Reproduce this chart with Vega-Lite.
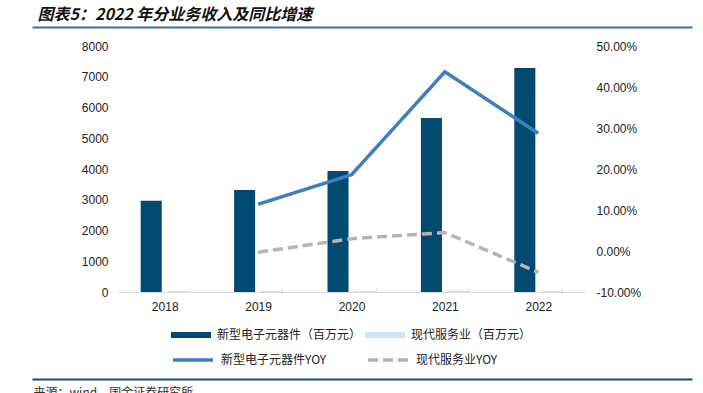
{
  "$schema": "https://vega.github.io/schema/vega-lite/v6.json",
  "width": 467,
  "height": 246,
  "autosize": {"type": "none"},
  "padding": {"left": 118, "top": 46, "right": 118, "bottom": 101},
  "background": "white",
  "config": {"view": {"stroke": null}, "axis": {"grid": false}},
  "datasets": {
    "rev": [
      {"year": "2018", "series": "新型电子元器件（百万元）", "value": 2970},
      {"year": "2018", "series": "现代服务业（百万元）", "value": 40},
      {"year": "2019", "series": "新型电子元器件（百万元）", "value": 3317},
      {"year": "2019", "series": "现代服务业（百万元）", "value": 39.9},
      {"year": "2020", "series": "新型电子元器件（百万元）", "value": 3935},
      {"year": "2020", "series": "现代服务业（百万元）", "value": 41.1},
      {"year": "2021", "series": "新型电子元器件（百万元）", "value": 5659},
      {"year": "2021", "series": "现代服务业（百万元）", "value": 43},
      {"year": "2022", "series": "新型电子元器件（百万元）", "value": 7285},
      {"year": "2022", "series": "现代服务业（百万元）", "value": 40.8}
    ],
    "yoy": [
      {"year": "2019", "series": "新型电子元器件YOY", "yoy": 0.114},
      {"year": "2020", "series": "新型电子元器件YOY", "yoy": 0.186},
      {"year": "2021", "series": "新型电子元器件YOY", "yoy": 0.437},
      {"year": "2022", "series": "新型电子元器件YOY", "yoy": 0.287},
      {"year": "2019", "series": "现代服务业YOY", "yoy": -0.003},
      {"year": "2020", "series": "现代服务业YOY", "yoy": 0.03},
      {"year": "2021", "series": "现代服务业YOY", "yoy": 0.045},
      {"year": "2022", "series": "现代服务业YOY", "yoy": -0.052}
    ]
  },
  "layer": [
    {
      "layer": [
        {
          "data": {"name": "rev"},
          "mark": {"type": "bar"},
          "encoding": {
            "x": {
              "field": "year", "type": "nominal",
              "scale": {"type": "band", "domain": ["2018", "2019", "2020", "2021", "2022"], "paddingInner": 0.486, "paddingOuter": 0.243},
              "axis": {
                "orient": "bottom", "title": null, "domainColor": "#d9d9d9", "domainWidth": 1,
                "ticks": true, "tickColor": "#d9d9d9", "tickSize": -4, "tickBand": "extent",
                "labelPadding": 13, "labelAngle": 0, "labelFont": "Liberation Sans", "labelFontSize": 12, "labelColor": "#222"
              }
            },
            "xOffset": {
              "field": "series", "type": "nominal",
              "scale": {"domain": ["新型电子元器件（百万元）", "现代服务业（百万元）"], "paddingInner": 0.22, "paddingOuter": 0}
            },
            "y": {
              "field": "value", "type": "quantitative",
              "scale": {"domain": [0, 8000], "nice": false},
              "axis": {
                "orient": "left", "title": null, "domain": false, "ticks": false,
                "values": [0, 1000, 2000, 3000, 4000, 5000, 6000, 7000, 8000], "format": "d",
                "labelPadding": 10, "labelFont": "Liberation Sans", "labelFontSize": 12, "labelColor": "#222"
              }
            },
            "fill": {
              "field": "series", "type": "nominal",
              "scale": {"domain": ["新型电子元器件（百万元）", "现代服务业（百万元）"], "range": ["#024a70", "#d2e4f4"]},
              "legend": {
                "title": null, "orient": "none", "legendX": 53, "legendY": 269, "direction": "horizontal", "columns": 2,
                "padding": 0, "symbolType": "M-1,-0.15H1V0.15H-1Z", "symbolSize": 1600, "symbolStrokeWidth": 0,
                "labelOffset": 6, "columnPadding": 3, "labelFont": "Noto Sans CJK SC", "labelFontSize": 12, "labelColor": "#222", "labelLimit": 300
              }
            }
          }
        },
        {
          "data": {"name": "yoy"},
          "mark": {"type": "line", "strokeWidth": 3.5},
          "encoding": {
            "x": {"field": "year", "type": "nominal"},
            "y": {
              "field": "yoy", "type": "quantitative",
              "scale": {"domain": [-0.1, 0.5], "nice": false},
              "axis": {
                "orient": "right", "title": null, "domain": false, "ticks": false,
                "values": [-0.1, 0, 0.1, 0.2, 0.3, 0.4, 0.5],
                "labelExpr": "replace(format(datum.value, '.2%'), '−', '-')",
                "labelPadding": 11, "labelFont": "Liberation Sans", "labelFontSize": 12, "labelColor": "#222"
              }
            },
            "stroke": {
              "field": "series", "type": "nominal",
              "scale": {"domain": ["新型电子元器件YOY", "现代服务业YOY"], "range": ["#3f7fc1", "#b5b5b5"]},
              "legend": {
                "title": null, "orient": "none", "legendX": 53, "legendY": 292, "direction": "horizontal", "columns": 2,
                "padding": 0, "symbolType": "stroke", "symbolSize": 1600, "symbolStrokeWidth": 3.5,
                "labelOffset": 6, "columnPadding": 34, "labelFont": "Noto Sans CJK SC", "labelFontSize": 12, "labelColor": "#222", "labelLimit": 300
              }
            },
            "strokeDash": {
              "field": "series", "type": "nominal",
              "scale": {"domain": ["新型电子元器件YOY", "现代服务业YOY"], "range": [[1, 0], [10, 5]]},
              "legend": {
                "title": null, "orient": "none", "legendX": 53, "legendY": 292, "direction": "horizontal", "columns": 2,
                "padding": 0, "symbolType": "stroke", "symbolSize": 1600, "symbolStrokeWidth": 3.5,
                "labelOffset": 6, "columnPadding": 34, "labelFont": "Noto Sans CJK SC", "labelFontSize": 12, "labelColor": "#222", "labelLimit": 300
              }
            }
          }
        }
      ],
      "resolve": {"scale": {"y": "independent"}}
    },
    {
      "data": {"name": "rev"},
      "mark": {"type": "point", "opacity": 0},
      "encoding": {
        "x": {
          "field": "year", "type": "nominal",
          "scale": {"type": "point", "range": [-86, 574]},
          "axis": {
            "orient": "top", "offset": 19, "domain": true, "domainColor": "#3d7496", "domainWidth": 2,
            "ticks": false, "labels": false, "grid": false,
            "title": "图表5：2022 年分业务收入及同比增速",
            "titleX": -81, "titleY": -8, "titleAlign": "left", "titleBaseline": "alphabetic", "titleAngle": 0,
            "titleFont": "Noto Sans CJK SC", "titleFontSize": 16, "titleFontStyle": "italic", "titleFontWeight": "bold", "titleColor": "#111"
          }
        }
      }
    },
    {
      "data": {"name": "rev"},
      "mark": {"type": "point", "opacity": 0},
      "encoding": {
        "x": {
          "field": "year", "type": "nominal",
          "scale": {"type": "point", "range": [-86, 574]},
          "axis": {
            "orient": "bottom", "offset": 87, "domain": true, "domainColor": "#0b4d74", "domainWidth": 2,
            "ticks": false, "labels": false, "grid": false,
            "title": "来源：wind，国金证券研究所",
            "titleX": -85, "titleY": 8, "titleAlign": "left", "titleBaseline": "top", "titleAngle": 0,
            "titleFont": "Noto Sans CJK SC", "titleFontSize": 12, "titleFontWeight": "normal", "titleColor": "#333"
          }
        }
      }
    }
  ],
  "resolve": {"scale": {"x": "independent", "y": "independent"}}
}
